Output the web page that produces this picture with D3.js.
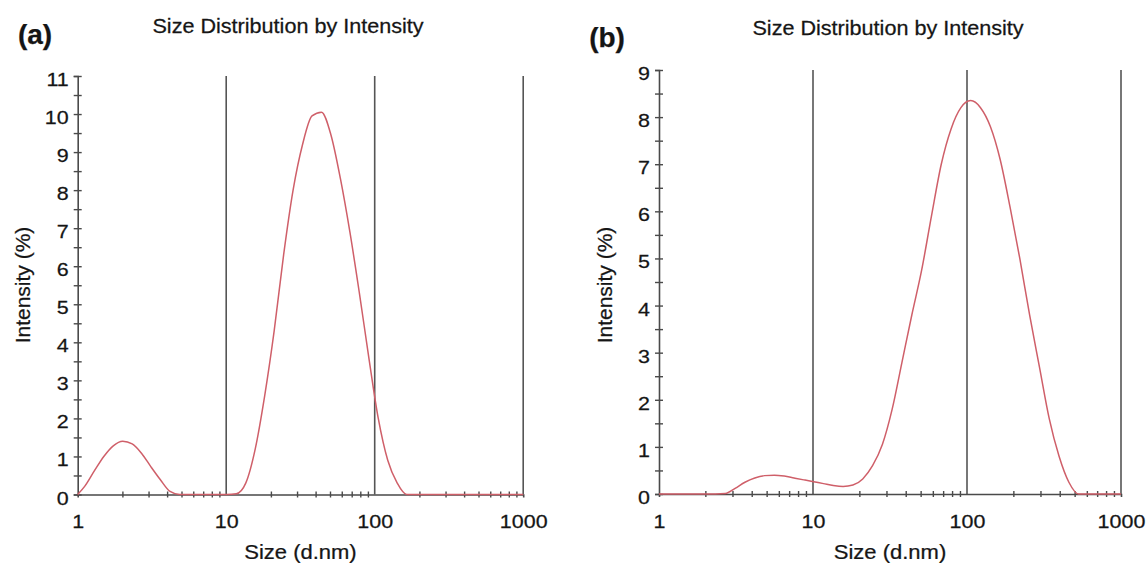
<!DOCTYPE html>
<html>
<head>
<meta charset="utf-8">
<script src="https://cdn.jsdelivr.net/npm/d3@7"></script>
<style>
  html, body { margin: 0; padding: 0; background: #fff; }
  svg text { font-family: "Liberation Sans", Arial, Helvetica, sans-serif; fill: #151515; }
</style>
</head>
<body>
<svg id="chart" width="1147" height="567"></svg>
<script>
// ---- Data ----
const sizes = [1, 1.117, 1.294, 1.499, 1.736, 2.010, 2.328, 2.696, 3.122, 3.615, 4.187, 4.849,
  5.615, 6.503, 7.531, 8.721, 10.10, 11.70, 13.54, 15.69, 18.17, 21.04, 24.36, 28.21, 32.67,
  37.84, 43.82, 50.75, 58.77, 68.06, 78.82, 91.28, 105.7, 122.4, 141.8, 164.2, 190.1, 220.2,
  255.0, 295.3, 342.0, 396.1, 458.7, 531.2, 615.1, 712.4, 825.0, 955.4, 1000];

const intensityA = [0, 0.22, 0.62, 1.0, 1.28, 1.40, 1.33, 1.08, 0.72, 0.38, 0.08, 0,
  0, 0, 0, 0, 0, 0.02, 0.3, 1.2, 2.6, 4.3, 6.3, 8.0, 9.2,
  9.95, 10.05, 9.45, 8.3, 6.9, 5.3, 3.6, 2.0, 0.9, 0.3, 0, 0, 0,
  0, 0, 0, 0, 0, 0, 0, 0, 0, 0, 0];

const intensityB = [0, 0, 0, 0, 0, 0, 0, 0.01, 0.12, 0.25, 0.34, 0.39,
  0.40, 0.38, 0.34, 0.30, 0.26, 0.22, 0.18, 0.16, 0.19, 0.32, 0.6, 1.05, 1.8,
  2.8, 3.8, 4.75, 5.9, 7.0, 7.75, 8.2, 8.35, 8.2, 7.8, 7.1, 6.1, 5.0,
  3.8, 2.7, 1.6, 0.8, 0.25, 0, 0, 0, 0, 0, 0];

const xTickLabels = [1, 10, 100, 1000];
const xMinorTicks = [2,3,4,5,6,7,8,9,20,30,40,50,60,70,80,90,200,300,400,500,600,700,800,900];
const yMaxA = 11, yMaxB = 9;
const panelLetters = ["(a)", "(b)"];
const titleText = "Size Distribution by Intensity";
const xLabelText = "Size (d.nm)";
const yLabelText = "Intensity (%)";

// ---- Layout ----
const panels = [
  { letter: panelLetters[0], values: intensityA, yMax: yMaxA,
    xr: [77.7, 523.2], yr: [494.5, 76],
    letterPos: [35, 34], titlePos: [288, 26], ylabX: 22 },
  { letter: panelLetters[1], values: intensityB, yMax: yMaxB,
    xr: [659, 1121], yr: [494, 70],
    letterPos: [607, 37], titlePos: [888, 28], ylabX: 604 }
];

const svg = d3.select("#chart");
const axisColor = "#4a4a4a";
const curveColor = "#cf5f69";
const FONT = "'Liberation Sans', Arial, sans-serif";

function addText(g, txt, x, y, size, sx, extra) {
  const t = g.append("text").text(txt)
    .attr("transform", `translate(${x},${y}) ${extra || ""} scale(${sx},1)`)
    .attr("text-anchor", "middle").attr("dominant-baseline", "central")
    .style("font-size", size + "px").style("font-family", FONT)
    .attr("stroke", "#151515").attr("stroke-width", 0.25);
  return t;
}

panels.forEach(p => {
  const x = d3.scaleLog().domain([1, 1000]).range(p.xr);
  const y = d3.scaleLinear().domain([0, p.yMax]).range(p.yr);
  const g = svg.append("g");

  // vertical decade lines
  g.selectAll("line.dec").data([10, 100, 1000]).join("line")
    .attr("x1", d => x(d)).attr("x2", d => x(d))
    .attr("y1", y(p.yMax)).attr("y2", y(0))
    .attr("stroke", "#555").attr("stroke-width", 1.6);

  // y axis: ticks every 0.5, labels on integers
  const yTicks = d3.range(0, p.yMax + 0.001, 0.5);
  const yAxis = d3.axisLeft(y).tickValues(yTicks).tickSize(4)
    .tickFormat(d => Number.isInteger(d) ? d : "");
  const ya = g.append("g").attr("transform", `translate(${p.xr[0]},0)`).call(yAxis);
  ya.select(".domain").attr("stroke", axisColor).attr("stroke-width", 1.6);
  ya.selectAll(".tick line").attr("x1", -4).attr("x2", 4)
    .attr("stroke", axisColor).attr("stroke-width", 1.4);
  ya.selectAll(".tick text").attr("x", 0).attr("dy", "0.5em")
    .attr("transform", "translate(-9,0) scale(1.13,1)")
    .style("font-size", "19px").attr("fill", "#151515")
    .attr("stroke", "#151515").attr("stroke-width", 0.25)
    .style("font-family", FONT);

  // x axis minor ticks
  const xMinor = d3.axisBottom(x).tickValues(xMinorTicks).tickSize(3).tickFormat("");
  const xa = g.append("g").attr("transform", `translate(0,${p.yr[0]})`).call(xMinor);
  xa.select(".domain").attr("stroke", axisColor).attr("stroke-width", 1.6);
  xa.selectAll(".tick line").attr("y1", -3).attr("y2", 3)
    .attr("stroke", axisColor).attr("stroke-width", 1.4);

  // x axis labels
  const xMajor = d3.axisBottom(x).tickValues(xTickLabels).tickSize(0).tickFormat(d3.format("d"));
  const xl = g.append("g").attr("transform", `translate(0,${p.yr[0]})`).call(xMajor);
  xl.select(".domain").remove();
  xl.selectAll(".tick text").attr("y", 0).attr("dy", "0.35em")
    .attr("transform", "translate(0,27) scale(1.13,1)")
    .style("font-size", "19px").attr("fill", "#151515")
    .attr("stroke", "#151515").attr("stroke-width", 0.25)
    .style("font-family", FONT);

  // curve
  const line = d3.line()
    .x((d, i) => x(sizes[i]))
    .y(d => y(d))
    .curve(d3.curveMonotoneX);
  g.append("path").datum(p.values)
    .attr("d", line).attr("fill", "none")
    .attr("stroke", curveColor).attr("stroke-width", 1.5);

  // texts
  addText(g, p.letter, p.letterPos[0], p.letterPos[1], 28, 1).style("font-weight", "bold");
  addText(g, titleText, p.titlePos[0], p.titlePos[1], 20, 1.08);
  addText(g, xLabelText, (p.xr[0] + p.xr[1]) / 2, 552, 20, 1.1);
  addText(g, yLabelText, p.ylabX, 285, 21, 1, "rotate(-90)");
});
</script>
</body>
</html>
